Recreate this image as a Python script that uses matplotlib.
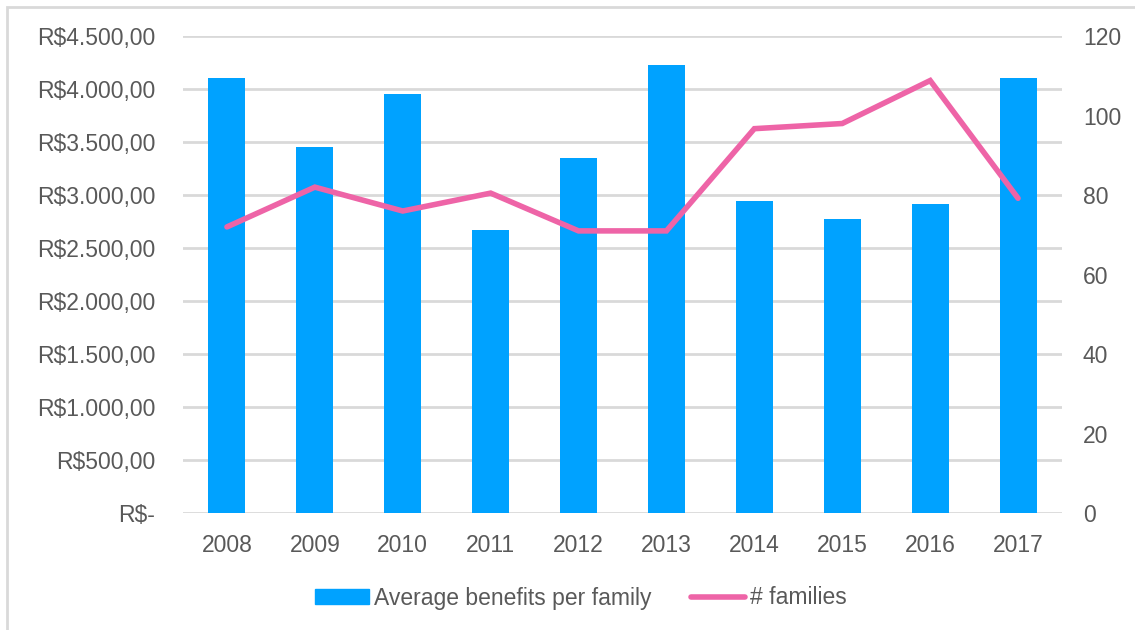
import matplotlib
matplotlib.use("Agg")
import matplotlib.pyplot as plt
from matplotlib.patches import Rectangle
from matplotlib.lines import Line2D
from matplotlib.ticker import FixedLocator

years = ["2008", "2009", "2010", "2011", "2012", "2013", "2014", "2015", "2016", "2017"]
avg_benefits = [4100, 3450, 3950, 2670, 3350, 4230, 2945, 2770, 2920, 4100]
families = [72, 82, 76, 80.5, 71, 71, 96.7, 98, 108.8, 79.2]
left_ticks = [0, 500, 1000, 1500, 2000, 2500, 3000, 3500, 4000, 4500]
left_labels = ["R$-", "R$500,00", "R$1.000,00", "R$1.500,00", "R$2.000,00", "R$2.500,00",
               "R$3.000,00", "R$3.500,00", "R$4.000,00", "R$4.500,00"]
right_ticks = [0, 20, 40, 60, 80, 100, 120]

plt.rcParams['font.family'] = ['Liberation Sans', 'DejaVu Sans']
TXT = '#595959'
BLUE = '#00A2FF'
PINK = '#EE64A7'
GRID = '#D9D9D9'
FS = 16.5

W, H = 1135, 630
fig = plt.figure(figsize=(W / 100, H / 100), dpi=100)
# border (top and left visible)
fig.patches.append(Rectangle((7 / W, -0.1), 1.2, (H - 7) / H + 0.1, transform=fig.transFigure,
                             fill=False, edgecolor='#D9D9D9', linewidth=2))

x0, x1 = 183, 1062
y_top, y_bot = 36, 513.3
ax = fig.add_axes([x0 / W, 1 - y_bot / H, (x1 - x0) / W, (y_bot - y_top) / H])
ax2 = ax.twinx()

xs = list(range(len(years)))
ax.bar(xs, avg_benefits, width=0.42, color=BLUE, zorder=3)
ax.set_xlim(-0.5, len(years) - 0.5)
ax.set_ylim(0, 4500)
ax.yaxis.set_major_locator(FixedLocator(left_ticks))
ax.set_yticklabels(left_labels)
ax.set_xticks(xs)
ax.set_xticklabels(years)
ax.grid(axis='y', color=GRID, linewidth=2, zorder=0)
ax.set_axisbelow(True)

ax2.plot(xs, families, color=PINK, linewidth=4, solid_capstyle='round', solid_joinstyle='miter', zorder=4)
ax2.set_ylim(0, 120)
ax2.set_yticks(right_ticks)

for a in (ax, ax2):
    for s in a.spines.values():
        s.set_visible(False)
    a.tick_params(length=0, labelsize=FS, colors=TXT)
ax.tick_params(axis='y', pad=20)
ax.tick_params(axis='x', pad=15)
ax2.tick_params(axis='y', pad=15)

handles = [Rectangle((0, 0), 1, 1, color=BLUE), Line2D([0], [0], color=PINK, linewidth=4, solid_capstyle='round')]
leg = fig.legend(handles, ["Average benefits per family", "# families"], loc='center',
                 bbox_to_anchor=(581 / W, 1 - 598 / H), ncol=2, frameon=False, fontsize=FS,
                 handlelength=2.35, handleheight=0.65, handletextpad=0.2, columnspacing=1.75)
for t in leg.get_texts():
    t.set_color(TXT)

fig.savefig("out.png", dpi=100)
